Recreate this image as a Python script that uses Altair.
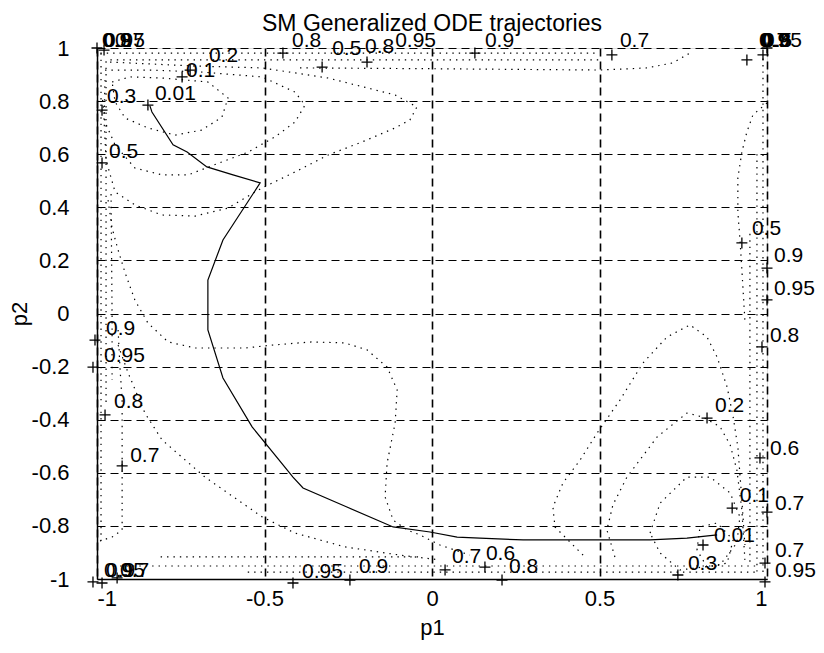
import altair as alt
import pandas as pd

FONT = "Liberation Sans"

# ---------------- data ----------------
# solid ODE trajectory
traj_p1 = [-0.842, -0.836, -0.773, -0.731, -0.672, -0.594, -0.513, -0.624, -0.669, -0.669,
           -0.624, -0.537, -0.415, -0.385, -0.254, -0.116, -0.006, 0.075, 0.143, 0.272,
           0.651, 0.761, 0.851]
traj_p2 = [0.782, 0.759, 0.635, 0.608, 0.552, 0.522, 0.492, 0.277, 0.126, -0.062,
           -0.243, -0.427, -0.616, -0.657, -0.729, -0.804, -0.823, -0.842, -0.846, -0.853,
           -0.853, -0.846, -0.834]

# dotted contour lines (p1, p2)
contour_a = [(-0.955, 0.872), (-0.901, 0.891), (-0.806, 0.887), (-0.669, 0.872), (-0.609, 0.812),
             (-0.627, 0.740), (-0.687, 0.691), (-0.767, 0.672), (-0.848, 0.699), (-0.916, 0.736),
             (-0.946, 0.797), (-0.955, 0.872)]
contour_b = [(-0.976, 0.917), (-0.842, 0.917), (-0.693, 0.910), (-0.507, 0.891), (-0.409, 0.834),
             (-0.379, 0.785), (-0.409, 0.721), (-0.469, 0.665), (-0.549, 0.608), (-0.627, 0.571),
             (-0.728, 0.522), (-0.806, 0.522), (-0.887, 0.548), (-0.946, 0.635), (-0.976, 0.721),
             (-0.985, 0.823)]
contour_c = [(-0.961, 0.947), (-0.707, 0.932), (-0.507, 0.925), (-0.310, 0.887), (-0.110, 0.823),
             (-0.045, 0.778), (-0.066, 0.729), (-0.110, 0.699), (-0.209, 0.646), (-0.310, 0.597),
             (-0.409, 0.533), (-0.507, 0.473), (-0.609, 0.397), (-0.707, 0.367), (-0.806, 0.371),
             (-0.887, 0.409), (-0.946, 0.458), (-0.973, 0.578), (-0.979, 0.729), (-0.976, 0.879)]
contour_d = [(-0.967, 0.427), (-0.955, 0.322), (-0.937, 0.239), (-0.916, 0.153), (-0.887, 0.051),
             (-0.848, -0.036), (-0.788, -0.107), (-0.707, -0.130), (-0.558, -0.130), (-0.478, -0.119),
             (-0.358, -0.107), (-0.260, -0.111), (-0.194, -0.137), (-0.134, -0.202), (-0.104, -0.288),
             (-0.110, -0.412), (-0.134, -0.563), (-0.140, -0.691), (-0.116, -0.778), (-0.075, -0.815),
             (-0.036, -0.834), (0.024, -0.872), (0.113, -0.910)]
contour_e = [(-0.937, -0.119), (-0.907, -0.224), (-0.857, -0.375), (-0.806, -0.476), (-0.678, -0.616),
             (-0.507, -0.766), (-0.409, -0.827), (-0.260, -0.879), (-0.096, -0.910), (0.024, -0.928)]
contour_f = [(-0.937, -0.062), (-0.931, -0.213), (-0.925, -0.326), (-0.925, -0.552), (-0.925, -0.815),
             (-0.955, -0.842), (-0.991, -0.857)]
contour_h = [(0.451, -0.910), (0.367, -0.804), (0.361, -0.729), (0.391, -0.638), (0.442, -0.552),
             (0.493, -0.450), (0.561, -0.326), (0.630, -0.186), (0.701, -0.089), (0.770, -0.043),
             (0.821, -0.089), (0.851, -0.164), (0.881, -0.277), (0.899, -0.390), (0.913, -0.503),
             (0.925, -0.702), (0.934, -0.872)]
contour_i = [(0.546, -0.917), (0.522, -0.815), (0.540, -0.721), (0.582, -0.616), (0.672, -0.465),
             (0.761, -0.375), (0.809, -0.390), (0.860, -0.427), (0.890, -0.495), (0.910, -0.589),
             (0.925, -0.740), (0.934, -0.928)]
contour_j = [(0.651, -0.827), (0.681, -0.714), (0.761, -0.616), (0.830, -0.616), (0.890, -0.676),
             (0.919, -0.766), (0.910, -0.864), (0.860, -0.947), (0.740, -0.966), (0.681, -0.902),
             (0.651, -0.827)]
contour_k = [(0.791, -0.891), (0.800, -0.804), (0.851, -0.789), (0.899, -0.853), (0.881, -0.940),
             (0.821, -0.955), (0.791, -0.891)]
contour_r = [(1.0, 0.793), (0.958, 0.748), (0.940, 0.684), (0.925, 0.608), (0.913, 0.510),
             (0.913, 0.382), (0.919, 0.284), (0.925, 0.164), (0.934, -0.025)]
contour_top1 = [(-0.99, 0.981), (-0.5, 0.981), (0.0, 0.981), (0.50, 0.981)]
contour_top2 = [(-0.96, 0.955), (-0.5, 0.955), (0.0, 0.955), (0.50, 0.955)]
contour_top3 = [(-0.394, 0.925), (0.0, 0.922), (0.501, 0.917), (0.642, 0.925), (0.719, 0.944), (0.770, 0.981)]
contour_left1 = [(-0.988, 0.98), (-0.988, 0.0), (-0.988, -0.86)]
contour_left2 = [(-0.973, 0.95), (-0.973, 0.2), (-0.973, -0.35)]
contour_left3 = [(-0.958, 0.45), (-0.955, 0.0), (-0.955, -0.25)]
contour_right1 = [(0.988, 0.96), (0.988, 0.0), (0.988, -0.99)]
contour_right2 = [(0.970, 0.6), (0.970, 0.0), (0.970, -0.99)]
contour_right3 = [(0.949, 0.30), (0.949, -0.3), (0.949, -0.95)]
contour_bot1 = [(-0.81, -0.917), (-0.4, -0.917), (-0.04, -0.917)]
contour_bot2 = [(-0.95, -0.951), (0.0, -0.951), (0.97, -0.951)]
contour_bot3 = [(-0.55, -0.974), (0.0, -0.974), (0.97, -0.974)]

contours = {
    "a": contour_a, "b": contour_b, "c": contour_c, "d": contour_d, "e": contour_e,
    "f": contour_f, "h": contour_h, "i": contour_i, "j": contour_j, "k": contour_k,
    "r": contour_r, "t1": contour_top1, "t2": contour_top2, "t3": contour_top3,
    "l1": contour_left1, "l2": contour_left2, "l3": contour_left3,
    "r1": contour_right1, "r2": contour_right2, "r3": contour_right3,
    "b1": contour_bot1, "b2": contour_bot2, "b3": contour_bot3,
}

# '+' markers from clabel
mark_p1 = [-1.0, -0.979, -0.848, -0.985, -0.985, -0.746, -0.722, -0.445, -0.328, -0.194,
           0.128, 0.537, 0.940, 0.988, 1.0, 0.925, 1.0, 1.0, 0.985, 0.821,
           0.979, 0.896, 1.0, 0.809, 0.734, 0.994, 0.994, 0.039, 0.158, 0.209,
           -0.245, -0.415, -1.006, -1.012, -0.976, -0.925, -1.012, -0.985, -0.940]
mark_p2 = [1.0, 0.992, 0.785, 0.766, 0.567, 0.891, 0.917, 0.981, 0.928, 0.947,
           0.981, 0.974, 0.955, 0.974, 1.0, 0.266, 0.171, 0.051, -0.126, -0.394,
           -0.544, -0.733, -0.748, -0.872, -0.985, -0.940, -1.011, -0.966, -0.955, -1.004,
           -1.004, -1.015, -0.100, -0.202, -0.382, -0.574, -1.011, -1.015, -0.996]

# contour labels
lab_text = ["0.9", "0.8", "0.95", "0.7", "0.2", "0.1", "0.3", "0.01", "0.5",
            "0.8", "0.5", "0.8", "0.95", "0.9", "0.7",
            "0.7", "0.9", "0.95", "0.8", "0.5",
            "0.5", "0.9", "0.95", "0.8", "0.2", "0.6", "0.1", "0.7", "0.01", "0.3", "0.7", "0.95",
            "0.7", "0.6", "0.8", "0.95", "0.9",
            "0.9", "0.95", "0.8", "0.7", "0.95", "0.9", "0.7"]
lab_p1 = [-0.991, -0.988, -0.985, -0.952, -0.672, -0.740, -0.976, -0.833, -0.970,
          -0.424, -0.304, -0.206, -0.116, 0.152, 0.555,
          0.970, 0.973, 0.976, 0.979, 0.982,
          0.949, 1.015, 1.015, 1.003, 0.839, 1.003, 0.913, 1.018, 0.836, 0.758, 1.018, 1.018,
          0.054, 0.155, 0.224, -0.394, -0.224,
          -0.979, -0.985, -0.955, -0.907, -0.985, -0.979, -0.937]
lab_p2 = [1.004, 1.004, 1.004, 1.004, 0.947, 0.890, 0.793, 0.804, 0.586,
          1.004, 0.974, 0.981, 1.004, 1.004, 1.004,
          1.004, 1.004, 1.004, 1.004, 1.004,
          0.296, 0.194, 0.070, -0.107, -0.371, -0.533, -0.710, -0.740, -0.861, -0.966, -0.917, -0.992,
          -0.940, -0.928, -0.977, -0.996, -0.977,
          -0.081, -0.183, -0.356, -0.559, -0.992, -0.992, -0.992]

x_ticks = [-1, -0.5, 0, 0.5, 1]
y_ticks = [-1, -0.8, -0.6, -0.4, -0.2, 0, 0.2, 0.4, 0.6, 0.8, 1]

# ---------------- tables ----------------
traj_df = pd.DataFrame({"p1": traj_p1, "p2": traj_p2, "i": range(len(traj_p1))})
rows = []
for name, pts in contours.items():
    for k, (a, b) in enumerate(pts):
        rows.append({"cid": name, "i": k, "p1": a, "p2": b})
cont_df = pd.DataFrame(rows)
mark_df = pd.DataFrame({"p1": mark_p1, "p2": mark_p2})
lab_df = pd.DataFrame({"t": lab_text, "p1": lab_p1, "p2": lab_p2})

xs = alt.Scale(domain=[-1, 1], nice=False, zero=False)
ys = alt.Scale(domain=[-1, 1], nice=False, zero=False)

xax = alt.Axis(values=x_ticks, labelExpr="'' + datum.value", grid=True, gridDash=[8, 5],
               gridColor="black", gridOpacity=1, gridWidth=1.6, ticks=False, tickSize=0,
               labelPadding=9, titlePadding=8, domainColor="black", domainWidth=1.5,
               labelFontSize=22, titleFontSize=22, labelFont=FONT, titleFont=FONT,
               labelColor="black", titleColor="black", titleFontWeight="normal")
yax = alt.Axis(values=y_ticks, labelExpr="'' + datum.value", grid=True, gridDash=[8, 5],
               gridColor="black", gridOpacity=1, gridWidth=1.2, ticks=False, tickSize=0,
               labelPadding=28, titlePadding=0, domainColor="black", domainWidth=1.5,
               labelFontSize=22, titleFontSize=22, labelFont=FONT, titleFont=FONT,
               labelColor="black", titleColor="black", titleFontWeight="normal")

base_x = alt.X("p1:Q", scale=xs, axis=xax, title="p1")
base_y = alt.Y("p2:Q", scale=ys, axis=yax, title="p2")

cont = alt.Chart(cont_df).mark_line(color="black", strokeWidth=1.2, strokeDash=[1.4, 5], clip=True).encode(
    x=alt.X("p1:Q", scale=xs), y=alt.Y("p2:Q", scale=ys), detail="cid:N", order="i:Q")

grid_layer = alt.Chart(traj_df).mark_line(opacity=0).encode(x=base_x, y=base_y)

traj = alt.Chart(traj_df).mark_line(color="black", strokeWidth=1.2).encode(
    x=alt.X("p1:Q", scale=xs), y=alt.Y("p2:Q", scale=ys), order="i:Q")

plus = alt.Chart(mark_df).mark_point(shape="M-1,0L1,0M0,-1L0,1", size=121, filled=False,
                                     color="black", strokeWidth=1.3, opacity=1).encode(
    x=alt.X("p1:Q", scale=xs), y=alt.Y("p2:Q", scale=ys))

labels = alt.Chart(lab_df).mark_text(align="left", baseline="alphabetic", dx=2, fontSize=21,
                                     font=FONT, color="black").encode(
    x=alt.X("p1:Q", scale=xs), y=alt.Y("p2:Q", scale=ys), text="t:N")

chart = alt.layer(grid_layer, cont, traj, plus, labels).properties(
    width=670, height=531,
    title=alt.TitleParams("SM Generalized ODE trajectories", fontSize=23, font=FONT,
                          fontWeight="normal", color="black", anchor="middle", offset=-6),
    autosize=alt.AutoSizeParams(type="none"),
    padding={"left": 89, "top": 40, "right": 49, "bottom": 66},
).configure_view(stroke="black", strokeWidth=1.5).configure(background="white")

chart.save("out.html", embed_options={"renderer": "svg", "actions": False})
